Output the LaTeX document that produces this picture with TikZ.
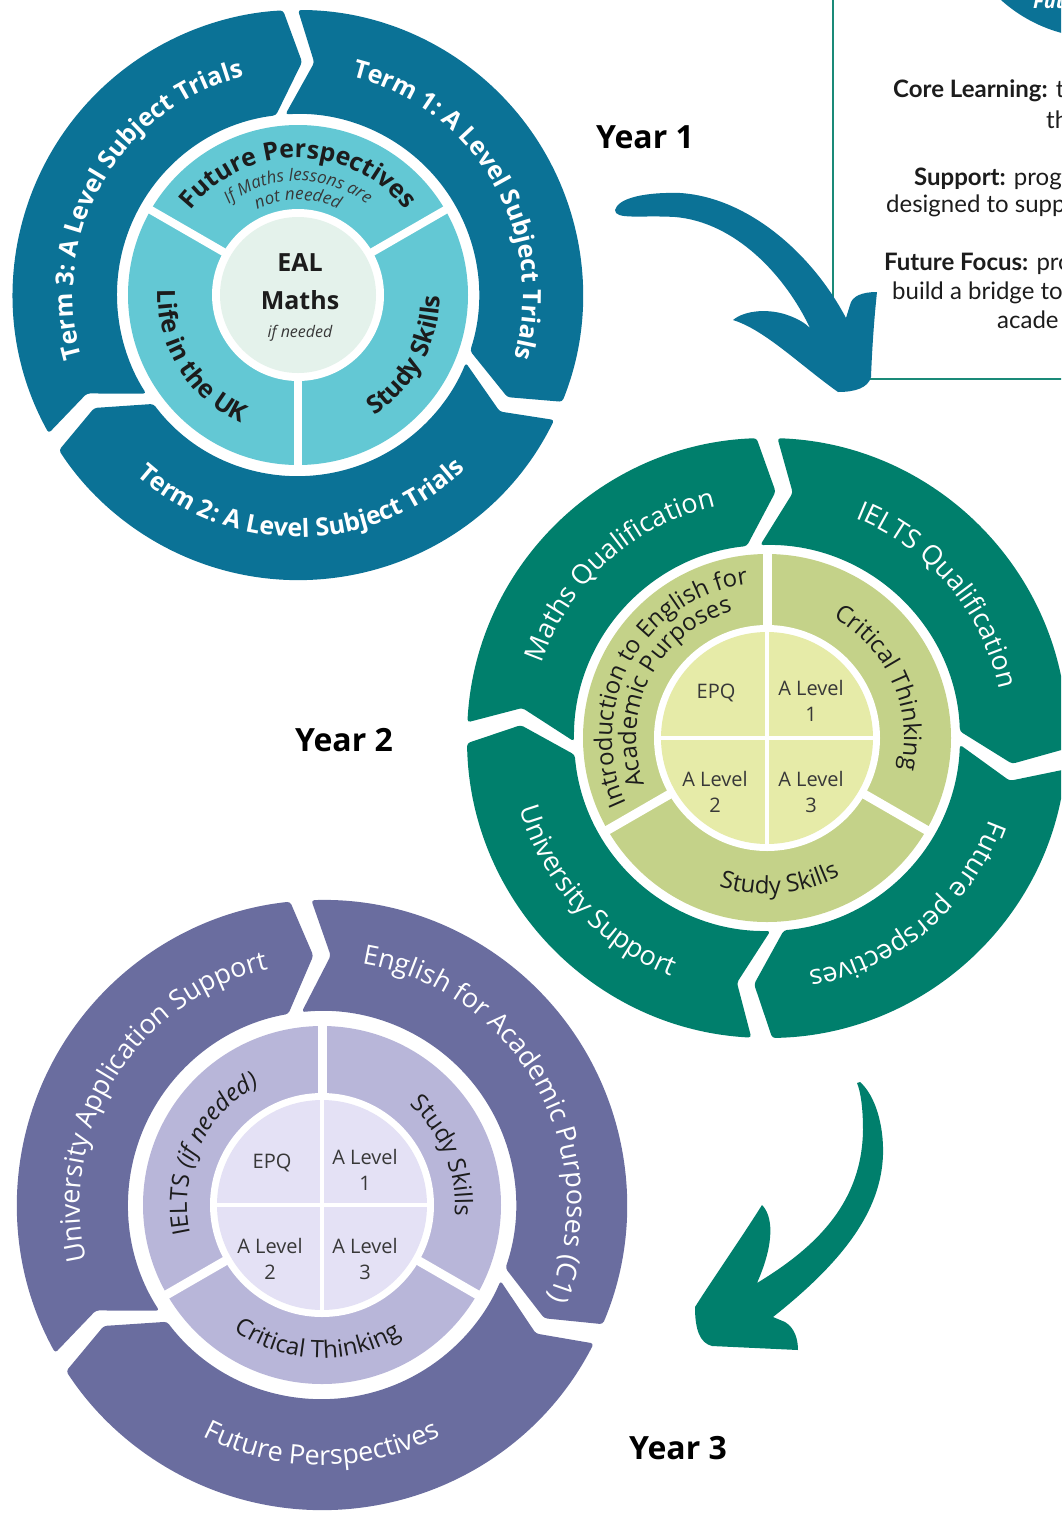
\documentclass[tikz,border=0pt]{standalone}
\usepackage{fontspec}
\setmainfont{Open Sans}
\newfontfamily\boxfont{Lato}
\usetikzlibrary{decorations.text}

\definecolor{yonedark}{HTML}{0B7296}
\definecolor{yonelight}{HTML}{63C8D4}
\definecolor{yonecore}{HTML}{E4F2EB}
\definecolor{ytwodark}{HTML}{007F6C}
\definecolor{ytwomid}{HTML}{C4D289}
\definecolor{ytwocore}{HTML}{E6EBA8}
\definecolor{ythreedark}{HTML}{6A6D9F}
\definecolor{ythreemid}{HTML}{B8B6D9}
\definecolor{ythreecore}{HTML}{E4E1F5}
\definecolor{boxline}{HTML}{1A8A78}
\definecolor{textdark}{HTML}{1C1C1C}
\definecolor{textgrey}{HTML}{383838}

% fonts of the ring labels
\newcommand{\yonebold}{\bfseries\fontsize{25}{30}\selectfont}
\newcommand{\yoneit}{\itshape\fontsize{17}{20}\selectfont}
\newcommand{\ringfont}{\fontsize{27}{32}\selectfont}
\newcommand{\innerfont}{\fontsize{24}{28}\selectfont}
\newcommand{\innerit}{\itshape\fontsize{24}{28}\selectfont}

% ring segment: colour, trailing angle, leading angle, inner radius, outer radius
\newcommand{\ringseg}[5]{%
	\fill[#1, rounded corners=3pt] (#2:#5) arc[start angle=#2, end angle=#3, radius=#5]
		-- ({#3-4}:{(#4+#5)/2}) -- ({#3+4}:#4)
		arc[start angle={#3+4}, end angle={#2+4}, radius=#4]
		-- ({#2-4}:{(#4+#5)/2}) -- cycle;}

% text on a ring: radius, middle angle, colour, font, text
\newcommand{\cwtext}[5]{%
	\path[decorate, decoration={text along path, text align=center, text color=#3, text={|#4|#5}}]
		({#2+80}:#1) arc[start angle={#2+80}, end angle={#2-80}, radius=#1];}
\newcommand{\ccwtext}[5]{%
	\path[decorate, decoration={text along path, text align=center, text color=#3, text={|#4|#5}}]
		({#2-80}:#1) arc[start angle={#2-80}, end angle={#2+80}, radius=#1];}

\begin{document}
\begin{tikzpicture}[x=1pt,y=1pt,
	yeartitle/.style={font=\bfseries\fontsize{32}{38}\selectfont, text=black},
	quad/.style={font=\fontsize{20}{26}\selectfont, text=textgrey, align=center},
	boxtext/.style={anchor=base west, inner sep=0pt, font=\boxfont\fontsize{24}{28}\selectfont, text=textdark}]
	\useasboundingbox (0,0) rectangle (1061,-1513);
	\clip (0,0) rectangle (1061,-1513);

	% key box, top right
	\draw[boxline, line width=2.5pt] (833,20) -- (833,-379) -- (1080,-379);
	\fill[yonedark] (1100,110) circle (148);
	\node[anchor=base west, inner sep=0pt, text=white, font=\bfseries\itshape\fontsize{20}{24}\selectfont] (fut) at (1033,-8) {Fut};
	\node[boxtext] (core)  at (893,-97)  {\textbf{Core Learning:} t};
	\node[boxtext] (coreb) at (1046,-128) {th};
	\node[boxtext] (supp)  at (914,-185) {\textbf{Support:} prog};
	\node[boxtext] (suppb) at (886,-212) {designed to supp};
	\node[boxtext] (focus) at (884,-270) {\textbf{Future Focus:} pro};
	\node[boxtext] (focusb) at (892,-299) {build a bridge to t};
	\node[boxtext] (focusc) at (997,-328) {acade};

	% year 1
	\begin{scope}[shift={(298,-295)}]
		\ringseg{yonedark}{90}{-22}{181}{285}
		\ringseg{yonedark}{-26}{-147}{181}{285}
		\ringseg{yonedark}{209}{93}{181}{285}
		\fill[yonelight] (0,0) circle (170);
		\foreach \a in {30,150,270} \draw[white, line width=8pt] (0,0) -- (\a:175);
		\fill[white] (0,0) circle (86);
		\fill[yonecore] (0,0) circle (78);
		\node[font=\bfseries\fontsize{25}{30}\selectfont, text=textdark] (eal) at (2,32) {EAL};
		\node[font=\bfseries\fontsize{25}{30}\selectfont, text=textdark] (maths) at (2,-5) {Maths};
		\node[font=\itshape\fontsize{16}{20}\selectfont, text=textgrey] (ifneed) at (2,-38) {if needed};
		\cwtext{225}{150}{white}{\yonebold}{Term 3: A Level Subject Trials}
		\cwtext{225}{30}{white}{\yonebold}{Term 1: A Level Subject Trials}
		\ccwtext{242}{-89}{white}{\yonebold}{Term 2: A Level Subject Trials}
		\cwtext{137}{90}{textdark}{\yonebold}{Future Perspectives}
		\cwtext{114}{90}{textgrey}{\yoneit}{If Maths lessons are}
		\cwtext{95}{90}{textgrey}{\yoneit}{not needed}
		\ccwtext{140}{212}{textdark}{\yonebold}{Life in the UK}
		\ccwtext{142}{-29}{textdark}{\yonebold}{Study Skills}
	\end{scope}

	% year 2
	\begin{scope}[shift={(767,-738)}]
		\ringseg{ytwodark}{177}{92}{193}{300}
		\ringseg{ytwodark}{88}{-2}{193}{300}
		\ringseg{ytwodark}{-6}{-89}{193}{300}
		\ringseg{ytwodark}{267}{181}{193}{300}
		\fill[ytwomid] (0,0) circle (184);
		\foreach \a in {90,210,330} \draw[white, line width=9pt] (0,0) -- (\a:188);
		\fill[white] (0,0) circle (113);
		\fill[ytwocore] (0,0) circle (106);
		\draw[white, line width=4pt] (-108,0) -- (108,0) (0,-108) -- (0,108);
		\node[quad] (epqtwo) at (-51,45) {EPQ};
		\node[quad] (aonetwo) at (44,37) {A Level\\1};
		\node[quad] (atwotwo) at (-52,-54) {A Level\\2};
		\node[quad] (athreetwo) at (44,-54) {A Level\\3};
		\cwtext{237}{132}{white}{\ringfont}{Maths Qualification}
		\cwtext{237}{40}{white}{\ringfont}{IELTS Qualification}
		\cwtext{237}{-50}{white}{\ringfont}{Future perspectives}
		\ccwtext{257}{222}{white}{\ringfont}{University Support}
		\cwtext{155}{151}{textdark}{\innerfont}{Introduction to English for}
		\cwtext{131}{153}{textdark}{\innerfont}{Academic Purposes}
		\cwtext{137}{24}{textdark}{\innerfont}{Critical Thinking}
		\ccwtext{156}{-85}{textdark}{\innerfont}{Study Skills}
	\end{scope}

	% year 3
	\begin{scope}[shift={(322,-1205)}]
		\ringseg{ythreedark}{92}{-23}{194}{305}
		\ringseg{ythreedark}{-27}{-147}{194}{305}
		\ringseg{ythreedark}{209}{96}{194}{305}
		\fill[ythreemid] (0,0) circle (179);
		\foreach \a in {90,210,330} \draw[white, line width=9pt] (0,0) -- (\a:183);
		\fill[white] (0,0) circle (112);
		\fill[ythreecore] (0,0) circle (105);
		\draw[white, line width=4pt] (-107,0) -- (107,0) (0,-107) -- (0,107);
		\node[quad] (epqthree) at (-50,42) {EPQ};
		\node[quad] (aonethree) at (43,35) {A Level\\1};
		\node[quad] (atwothree) at (-52,-54) {A Level\\2};
		\node[quad] (athreethree) at (43,-54) {A Level\\3};
		\cwtext{242}{148}{white}{\ringfont}{University Application Support}
		\cwtext{245}{29}{white}{\ringfont}{English for Academic Purposes (C1)}
		\ccwtext{260}{-90}{white}{\ringfont}{Future Perspectives}
		\cwtext{135}{155}{textdark}{\innerfont}{IELTS |\innerit|(if needed)}
		\cwtext{133}{22}{textdark}{\innerfont}{Study Skills}
		\ccwtext{153}{-92}{textdark}{\innerfont}{Critical Thinking}
	\end{scope}

	% arrows between the years
	\fill[yonedark] (615,-210) .. controls (618,-198) and (645,-192) .. (680,-193)
		.. controls (745,-197) and (810,-250) .. (846,-318)
		-- (850,-305) .. controls (852,-296) and (862,-292) .. (877,-292)
		.. controls (874,-320) and (872,-350) .. (871,-377)
		.. controls (868,-388) and (855,-392) .. (838,-392)
		.. controls (800,-365) and (765,-330) .. (733,-320)
		.. controls (745,-310) and (770,-308) .. (790,-316)
		.. controls (798,-319) and (805,-323) .. (810,-328)
		.. controls (785,-275) and (735,-222) .. (675,-217)
		.. controls (640,-215) and (615,-220) .. (615,-210) -- cycle;
	\fill[ytwodark] (860,-1082) .. controls (875,-1095) and (884,-1125) .. (883,-1155)
		.. controls (881,-1210) and (845,-1260) .. (773,-1317)
		-- (785,-1322) .. controls (795,-1328) and (798,-1340) .. (798,-1350)
		-- (712,-1346) .. controls (700,-1343) and (695,-1330) .. (695,-1307)
		.. controls (712,-1280) and (740,-1240) .. (762,-1205)
		.. controls (772,-1215) and (776,-1240) .. (757,-1283)
		.. controls (820,-1245) and (862,-1200) .. (863,-1130)
		.. controls (863,-1105) and (860,-1090) .. (857,-1083) -- cycle;

	\node[yeartitle] (yone) at (645,-137) {Year 1};
	\node[yeartitle] (ytwo) at (344,-740) {Year 2};
	\node[yeartitle] (ythree) at (678,-1448) {Year 3};
\end{tikzpicture}
\end{document}
